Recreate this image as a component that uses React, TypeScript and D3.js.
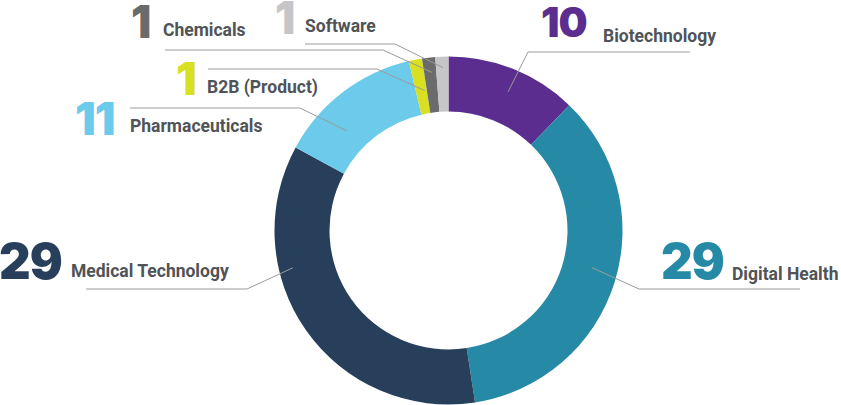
import * as d3 from "d3";
import { useMemo } from "react";

const categories = [
  "Biotechnology",
  "Digital Health",
  "Medical Technology",
  "Pharmaceuticals",
  "B2B (Product)",
  "Chemicals",
  "Software",
];
const counts = [10, 29, 29, 11, 1, 1, 1];
const colors = ["#5b2d8e", "#268aa7", "#283f5c", "#6ccbeb", "#d9e021", "#6b6b6b", "#c6c6c8"];

// label layout: number position, text position, guide line (elbow x, far x, y), leader anchor in slice
const labelLayout = [
  { numX: 541, numY: 37, numSize: 41, textX: 603, textY: 42, elbowX: 528, farX: 690, lineY: 52, frac: 0.53, rad: 151 },
  { numX: 661, numY: 279, numSize: 49, textX: 732, textY: 280, elbowX: 639, farX: 800, lineY: 289, frac: 0.476, rad: 148 },
  { numX: -1, numY: 279, numSize: 49, textX: 71, textY: 277, elbowX: 247, farX: 86, lineY: 289, frac: 0.67, rad: 160 },
  { numX: 75, numY: 135, numSize: 46, textX: 130, textY: 132, elbowX: 300, farX: 130, lineY: 108, frac: 0.33, rad: 142 },
  { numX: 176, numY: 95, numSize: 46, textX: 207, textY: 93, elbowX: 377, farX: 208, lineY: 69, frac: 0.8, rad: 142 },
  { numX: 131, numY: 38, numSize: 45, textX: 163, textY: 36, elbowX: 383, farX: 165, lineY: 50, frac: 0.64, rad: 159 },
  { numX: 275, numY: 34, numSize: 45, textX: 305, textY: 32, elbowX: 395, farX: 305, lineY: 44, frac: 0.56, rad: 163 },
];

const width = 841;
const height = 405;
const cx = 448.5;
const cy = 230.5;
const outerR = 174;
const innerR = 119;

export default function App() {
  const arcs = useMemo(() => {
    const pie = d3
      .pie<number>()
      .sort(null)
      .value((d) => d);
    return pie(counts);
  }, []);

  const arc = d3
    .arc<d3.PieArcDatum<number>>()
    .innerRadius(innerR)
    .outerRadius(outerR);

  return (
    <svg
      width={width}
      height={height}
      style={{ position: "absolute", left: 0, top: 0, background: "#fff" }}
    >
      <g transform={`translate(${cx},${cy})`}>
        {arcs.map((a, i) => (
          <path key={categories[i]} d={arc(a) || ""} fill={colors[i]} />
        ))}
      </g>
      {arcs.map((a, i) => {
        const l = labelLayout[i];
        const ang = a.startAngle + (a.endAngle - a.startAngle) * l.frac;
        const px = cx + l.rad * Math.sin(ang);
        const py = cy - l.rad * Math.cos(ang);
        return (
          <g key={"lbl" + i}>
            <line x1={l.farX} y1={l.lineY} x2={l.elbowX} y2={l.lineY} stroke="#bdbdbd" strokeWidth={1.6} />
            <line x1={l.elbowX} y1={l.lineY} x2={px} y2={py} stroke="#9a9a9a" strokeWidth={1} />
            <text
              x={l.numX}
              y={l.numY}
              fill={colors[i]}
              fontFamily="Inter, 'Open Sans', sans-serif"
              fontWeight={900}
              fontSize={l.numSize}
              letterSpacing={-1}
            >
              {counts[i]}
            </text>
            <text
              x={l.textX}
              y={l.textY}
              fill="#505357"
              fontFamily="Roboto, sans-serif"
              fontWeight={700}
              fontSize={17.5}
            >
              {categories[i]}
            </text>
          </g>
        );
      })}
    </svg>
  );
}
